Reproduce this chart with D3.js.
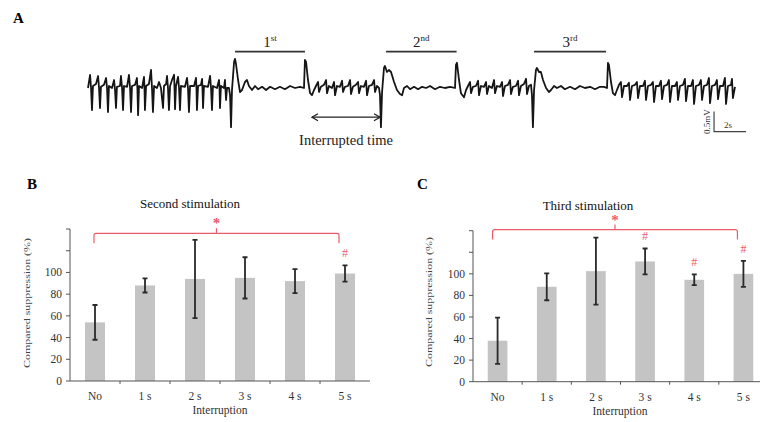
<!DOCTYPE html>
<html>
<head>
<meta charset="utf-8">
<script src="https://cdn.jsdelivr.net/npm/d3@7"></script>
<style>
  body { margin: 0; background: #fff; }
  svg { display: block; font-family: "Liberation Serif", "Times New Roman", serif; }
</style>
</head>
<body>
<svg id="fig" width="760" height="422"></svg>
<script>
var trace = [
  [0,0],[0.13,0.33],[0.19,0],[0.25,-0.55],[0.31,0.05],[0.5,0.1],[0.63,0.3],[0.69,0],[0.75,-0.5],[0.81,0.03],
  [1.0,0.08],[1.13,0.25],[1.19,0],[1.25,-0.6],[1.31,0.05],[1.5,0],[1.63,0.2],[1.69,-0.05],[1.75,-0.5],[1.81,0.03],
  [2.0,0.05],[2.06,0.3],[2.13,0],[2.19,-0.55],[2.25,0.05],[2.44,0.03],[2.56,0.33],[2.63,0],[2.69,-0.6],[2.75,0.05],
  [2.94,0.08],[3.06,0.25],[3.09,-0.05],[3.13,-0.68],[3.19,0.05],[3.38,0],[3.5,0.28],[3.53,0],[3.56,-0.55],[3.63,0.05],
  [3.81,0.1],[3.94,0.45],[4.0,0],[4.06,-0.6],[4.13,0.05],[4.31,0],[4.44,0.15],[4.56,0],[4.69,-0.5],[4.75,0.05],
  [4.88,0.1],[4.94,0.3],[5.0,0],[5.06,-0.55],[5.13,0.05],[5.25,0.2],[5.38,0.33],[5.41,-0.05],[5.44,-0.53],[5.5,0.05],
  [5.63,0.28],[5.69,0],[5.75,-0.55],[5.81,0.05],[6.06,0.03],[6.19,0.25],[6.25,0],[6.31,-0.6],[6.38,0.05],
  [6.63,0.05],[6.75,0.25],[6.78,0],[6.81,-0.55],[6.88,0.05],[7.06,0.08],[7.13,0.23],[7.16,-0.05],[7.19,-0.5],[7.25,0.05],
  [7.5,0.03],[7.63,0.3],[7.69,0],[7.75,-0.55],[7.81,0.05],[8.06,0],[8.19,0.2],[8.22,0],[8.25,-0.5],[8.31,0.05],
  [8.5,0],[8.56,0.2],[8.63,-0.3],[8.69,0],
  // 1st stimulation
  [8.81,0],[8.88,-0.18],[8.94,-0.98],[9.0,-0.05],[9.13,0.65],[9.19,0.73],[9.25,0.6],[9.38,0.2],[9.5,-0.1],[9.63,-0.05],
  [9.81,0.15],[9.94,0.2],[10.06,0.05],[10.25,-0.05],[10.44,0.05],[10.63,-0.03],[10.88,0.03],[11.13,-0.05],[11.38,0.03],
  [11.69,-0.03],[12.0,0.03],[12.31,-0.03],[12.63,0.05],[12.94,0],[13.25,0.03],[13.5,0],[13.56,0.7],[13.63,0.65],
  [13.75,0.2],[13.88,-0.13],[14.0,-0.18],[14.13,-0.05],
  // interruption
  [14.25,0.05],[14.38,0.15],[14.44,-0.1],[14.56,0.03],[14.75,0.08],[14.88,0.2],[14.94,-0.13],[15.06,0.05],
  [15.25,0],[15.38,0.15],[15.44,-0.18],[15.56,0.05],[15.75,0.03],[15.88,0.18],[15.94,-0.1],[16.06,0.03],
  [16.25,0.05],[16.38,0.2],[16.44,-0.15],[16.56,0.03],[16.75,0.08],[16.88,0.15],[16.94,-0.13],[17.06,0.05],
  [17.25,0.03],[17.38,0.18],[17.44,-0.18],[17.56,0.05],[17.75,0.08],[17.88,0.2],[17.94,-0.1],[18.06,0.05],[18.19,0],
  // 2nd stimulation
  [18.25,-0.18],[18.31,-0.98],[18.38,-0.1],[18.5,0.5],[18.56,0.55],[18.69,0.4],[18.81,0.45],[18.94,0.4],[19.13,0.15],
  [19.31,-0.05],[19.5,-0.15],[19.63,-0.18],[19.75,0],[19.94,0.05],[20.13,-0.03],[20.38,0.03],[20.63,-0.03],[20.88,0.03],
  [21.13,0],[21.38,0.05],[21.69,-0.03],[22.0,0.03],[22.31,0],[22.63,0.03],[22.94,0],[23.0,0.58],[23.06,0.63],
  [23.19,0.2],[23.31,-0.13],[23.5,-0.23],[23.63,-0.05],
  // interruption
  [23.75,0.05],[23.88,0.15],[23.94,-0.13],[24.06,0.03],[24.25,0.05],[24.38,0.18],[24.44,-0.18],[24.56,0.05],
  [24.75,0.03],[24.88,0.15],[24.94,-0.15],[25.06,0.05],[25.25,0],[25.38,0.2],[25.44,-0.13],[25.56,0.05],
  [25.75,0.03],[25.88,0.15],[25.94,-0.2],[26.06,0.05],[26.25,0.08],[26.38,0.2],[26.44,-0.15],[26.56,0.03],
  [26.75,0.05],[26.88,0.18],[26.94,-0.18],[27.06,0.05],[27.25,0.1],[27.38,0.23],[27.44,-0.15],[27.56,0.05],[27.69,0.08],
  // 3rd stimulation
  [27.75,-0.18],[27.81,-0.98],[27.88,-0.05],[28.0,0.45],[28.06,0.5],[28.19,0.4],[28.31,0.4],[28.44,0.2],[28.63,0],
  [28.81,-0.1],[28.94,-0.05],[29.13,0.05],[29.31,0],[29.56,0.05],[29.81,-0.03],[30.13,0.03],[30.44,-0.03],[30.75,0.05],
  [31.06,0],[31.38,0.03],[31.69,-0.03],[32.0,0.03],[32.25,0.03],[32.44,0],[32.5,0.63],[32.56,0.58],[32.69,0.15],
  [32.81,-0.13],[32.94,-0.18],[33.06,-0.05],
  // after stimulation
  [33.19,0.08],[33.31,0.15],[33.38,-0.23],[33.5,0.05],[33.69,0.05],[33.81,0.13],[33.88,-0.3],[34.0,0.05],
  [34.19,0.08],[34.31,0.15],[34.38,-0.25],[34.5,0.05],[34.69,0.05],[34.81,0.18],[34.88,-0.3],[35.0,0.05],
  [35.19,0.08],[35.31,0.15],[35.38,-0.35],[35.5,0.05],[35.69,0.05],[35.81,0.18],[35.88,-0.28],[36.0,0.05],
  [36.19,0.08],[36.31,0.2],[36.38,-0.35],[36.5,0.05],[36.69,0.05],[36.81,0.15],[36.88,-0.3],[37.0,0.05],
  [37.19,0.08],[37.31,0.23],[37.38,-0.33],[37.5,0.05],[37.69,0.05],[37.81,0.2],[37.88,-0.4],[38.0,0.05],
  [38.19,0.08],[38.31,0.2],[38.38,-0.3],[38.5,0.05],[38.69,0.08],[38.81,0.25],[38.88,-0.38],[39.0,0.05],
  [39.19,0.08],[39.31,0.2],[39.38,-0.28],[39.5,0.05],[39.69,0.05],[39.81,0.25],[39.88,-0.4],[40.0,0.05],
  [40.19,0.08],[40.25,0.23],[40.31,-0.25],[40.44,0.03]
];

var stimWindows = [
  { num: "1", sup: "st", start: 9.19, end: 13.56 },
  { num: "2", sup: "nd", start: 18.63, end: 23.04 },
  { num: "3", sup: "rd", start: 27.88, end: 32.38 }
];
var stimLevel = 0.91;            // mV, where the stimulation bars sit
var interrupted = [14.0, 18.25]; // s
var interruptedLevel = -0.73;    // mV
var scaleBar = { t: 39.13, v: -1.09, dt: 2, dv: 0.5 };

// ---- panels B and C
var categories = ["No", "1 s", "2 s", "3 s", "4 s", "5 s"];
var secondMean = [54, 88, 94, 95, 92, 99];
var secondErr  = [16, 6.5, 36, 19, 11, 7.5];
var secondHash = [0, 0, 0, 0, 0, 1];
var thirdMean  = [38, 88, 102.5, 111.5, 94.5, 100];
var thirdErr   = [21.5, 12.5, 31, 12, 5, 12];
var thirdHash  = [0, 0, 0, 1, 1, 1];
var yTicks = [0, 20, 40, 60, 80, 100, 120, 140];
var yLabelled = [0, 20, 40, 60, 80, 100];

var svg = d3.select("#fig");
var red = "#ee5a6a";

// panel A
var tx = d3.scaleLinear().domain([0, 40.44]).range([88, 735]);
var ty = d3.scaleLinear().domain([-1, 1]).range([128, 48]);

svg.append("text").attr("x", 13).attr("y", 23)
  .attr("font-size", 15).attr("font-weight", "bold").text("A");

svg.append("path")
  .datum(trace)
  .attr("fill", "none")
  .attr("stroke", "#151515")
  .attr("stroke-width", 1.8)
  .attr("stroke-linejoin", "round")
  .attr("d", d3.line().x(function(d) { return tx(d[0]); }).y(function(d) { return ty(d[1]); }));

var stim = svg.selectAll(".stim").data(stimWindows).join("g").attr("class", "stim");
stim.append("line")
  .attr("x1", function(d) { return tx(d.start); })
  .attr("x2", function(d) { return tx(d.end); })
  .attr("y1", ty(stimLevel)).attr("y2", ty(stimLevel))
  .attr("stroke", "#333").attr("stroke-width", 1.8);
var lab = stim.append("text")
  .attr("x", function(d) { return tx((d.start + d.end) / 2); })
  .attr("y", ty(stimLevel) - 5)
  .attr("text-anchor", "middle")
  .attr("font-size", 15).attr("fill", "#222");
lab.append("tspan").text(function(d) { return d.num; });
lab.append("tspan").attr("font-size", 9).attr("dy", -6).text(function(d) { return d.sup; });

// interrupted time arrow
var iy = ty(interruptedLevel), ix0 = tx(interrupted[0]), ix1 = tx(interrupted[1]);
svg.append("line").attr("x1", ix0).attr("x2", ix1).attr("y1", iy).attr("y2", iy)
  .attr("stroke", "#222").attr("stroke-width", 1.3);
svg.append("path")
  .attr("d", "M" + (ix0 + 6) + "," + (iy - 3.5) + "L" + ix0 + "," + iy + "L" + (ix0 + 6) + "," + (iy + 3.5) +
             "M" + (ix1 - 6) + "," + (iy - 3.5) + "L" + ix1 + "," + iy + "L" + (ix1 - 6) + "," + (iy + 3.5))
  .attr("fill", "none").attr("stroke", "#222").attr("stroke-width", 1.3);
svg.append("text").attr("x", (ix0 + ix1) / 2).attr("y", 145)
  .attr("text-anchor", "middle").attr("font-size", 14.5).attr("fill", "#222")
  .text("Interrupted time");

// scale bar
var sx = tx(scaleBar.t), sy = ty(scaleBar.v);
svg.append("path")
  .attr("d", "M" + sx + "," + ty(scaleBar.v + scaleBar.dv) + "V" + sy + "H" + tx(scaleBar.t + scaleBar.dt))
  .attr("fill", "none").attr("stroke", "#444").attr("stroke-width", 1.2);
svg.append("text")
  .attr("transform", "translate(" + (sx - 4) + "," + (sy - 10) + ") rotate(-90)")
  .attr("text-anchor", "middle").attr("font-size", 9).attr("fill", "#333").text("0.5mV");
svg.append("text").attr("x", sx + 10).attr("y", sy - 4)
  .attr("font-size", 9).attr("fill", "#333").text("2s");

// bar chart panels
function barPanel(opt) {
  var g = svg.append("g");
  var x = d3.scaleBand().domain(categories).range(opt.xRange).padding(0);
  var y = d3.scaleLinear().domain([0, 140]).range(opt.yRange);
  var bw = x.bandwidth() * 0.4;
  var x0 = opt.xRange[0];
  var rows = categories.map(function(c, i) {
    return { cat: c, mean: opt.mean[i], err: opt.err[i], hash: opt.hash[i] };
  });

  g.append("text").attr("x", opt.letter[0]).attr("y", opt.letter[1])
    .attr("font-size", 15).attr("font-weight", "bold").text(opt.letterText);

  g.selectAll(".bar").data(rows).join("rect")
    .attr("x", function(d) { return x(d.cat) + (x.bandwidth() - bw) / 2; })
    .attr("y", function(d) { return y(d.mean); })
    .attr("width", bw)
    .attr("height", function(d) { return y(0) - y(d.mean); })
    .attr("fill", "#c4c4c4");

  // axes
  g.append("line").attr("x1", x0).attr("x2", x0).attr("y1", y(0)).attr("y2", y(140))
    .attr("stroke", "#555").attr("stroke-width", 1);
  g.selectAll(".yt").data(yTicks).join("line")
    .attr("x1", x0 - 4).attr("x2", x0)
    .attr("y1", function(d) { return y(d); }).attr("y2", function(d) { return y(d); })
    .attr("stroke", "#555");
  g.selectAll(".yl").data(yLabelled).join("text")
    .attr("x", x0 - 8).attr("y", function(d) { return y(d); }).attr("dy", "0.35em")
    .attr("text-anchor", "end").attr("font-size", 11.5).attr("fill", "#333")
    .text(function(d) { return d; });
  g.append("line").attr("x1", x0).attr("x2", opt.xRange[1]).attr("y1", y(0)).attr("y2", y(0))
    .attr("stroke", "#555").attr("stroke-width", 1);
  g.selectAll(".xt").data(categories.slice(1)).join("line")
    .attr("x1", function(d) { return x(d); }).attr("x2", function(d) { return x(d); })
    .attr("y1", y(0)).attr("y2", y(0) + 3).attr("stroke", "#555");
  g.selectAll(".xl").data(categories).join("text")
    .attr("x", function(d) { return x(d) + x.bandwidth() / 2; })
    .attr("y", y(0) + 19)
    .attr("text-anchor", "middle").attr("font-size", 11.5).attr("fill", "#333")
    .text(function(d) { return d; });
  g.append("text").attr("x", opt.xTitle).attr("y", y(0) + 33)
    .attr("text-anchor", "middle").attr("font-size", 11.5).attr("fill", "#333").text("Interruption");
  g.append("text")
    .attr("transform", "translate(" + opt.yTitle[0] + "," + opt.yTitle[1] + ") rotate(-90)")
    .attr("text-anchor", "middle").attr("font-size", 9).attr("fill", "#444")
    .attr("textLength", 130).attr("lengthAdjust", "spacingAndGlyphs")
    .text("Compared suppression (%)");
  g.append("text").attr("x", opt.title[0]).attr("y", opt.title[1])
    .attr("text-anchor", "middle").attr("font-size", 13).attr("fill", "#111").text(opt.titleText);

  // error bars
  var eb = g.selectAll(".eb").data(rows).join("g");
  eb.append("path")
    .attr("d", function(d) {
      var cx = x(d.cat) + x.bandwidth() / 2, t = y(d.mean + d.err), b = y(d.mean - d.err);
      return "M" + cx + "," + t + "V" + b + "M" + (cx - 2.5) + "," + t + "H" + (cx + 2.5) +
             "M" + (cx - 2.5) + "," + b + "H" + (cx + 2.5);
    })
    .attr("fill", "none").attr("stroke", "#2a2a2a").attr("stroke-width", 1.8);

  // significance marks
  g.selectAll(".hash").data(rows.filter(function(d) { return d.hash; })).join("text")
    .attr("x", function(d) { return x(d.cat) + x.bandwidth() / 2; })
    .attr("y", function(d) { return y(d.mean + d.err) - 8; })
    .attr("text-anchor", "middle").attr("font-size", 12).attr("fill", red).text("#");

  var bl = x(categories[0]) + x.bandwidth() / 2 + opt.bracketPad[0];
  var br = x(categories[categories.length - 1]) + x.bandwidth() / 2 + opt.bracketPad[1];
  var by = y(opt.bracketY), bm = (bl + br) / 2;
  g.append("path")
    .attr("d", "M" + bl + "," + (by + 10) + "V" + (by + 2) + "Q" + bl + "," + by + " " + (bl + 2) + "," + by +
               "H" + (br - 2) + "Q" + br + "," + by + " " + br + "," + (by + 2) + "V" + (by + 10) +
               "M" + bm + "," + by + "V" + (by - 5))
    .attr("fill", "none").attr("stroke", red).attr("stroke-width", 1.2);
  g.append("text").attr("x", bm).attr("y", by - 5)
    .attr("text-anchor", "middle").attr("font-size", 15).attr("font-weight", "bold").attr("fill", red).text("*");
}

barPanel({
  letterText: "B", letter: [27, 189],
  xRange: [70, 370], yRange: [381, 229],
  mean: secondMean, err: secondErr, hash: secondHash,
  titleText: "Second stimulation", title: [190, 208],
  xTitle: 220, yTitle: [30, 303],
  bracketY: 136, bracketPad: [-1, -6]
});
barPanel({
  letterText: "C", letter: [417, 189],
  xRange: [473, 768], yRange: [381.7, 230.7],
  mean: thirdMean, err: thirdErr, hash: thirdHash,
  titleText: "Third stimulation", title: [588, 210],
  xTitle: 620, yTitle: [432, 302],
  bracketY: 141, bracketPad: [-5, -6]
});
</script>
</body>
</html>
